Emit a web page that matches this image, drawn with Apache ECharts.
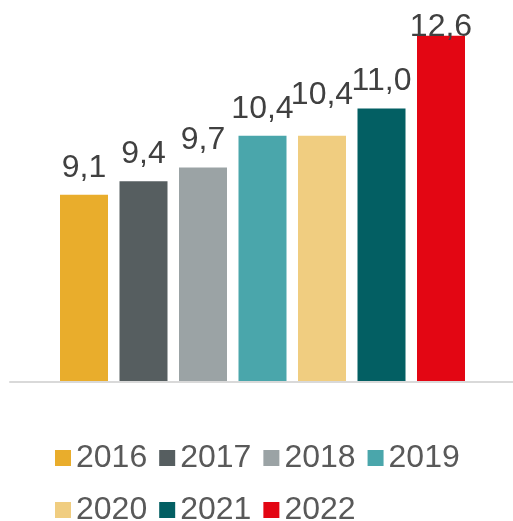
<!DOCTYPE html>
<html><head><meta charset="utf-8">
<script src="https://cdn.jsdelivr.net/npm/echarts@6/dist/echarts.min.js"></script>
<style>html,body{margin:0;padding:0;background:#fff}#c{width:513px;height:521px}</style>
</head><body><div id="c"></div>
<script>
const years = ['2016','2017','2018','2019','2020','2021','2022'];
const values = [9.1, 9.4, 9.7, 10.4, 10.4, 11.0, 12.6];
const colors = ['#E9AD2C','#565E60','#9BA3A5','#4AA6AB','#F0CD80','#035F63','#E30613'];
const yMin = 5, yMax = 13;

const labelOffsets = {4: [0, -14], 6: [0, 18]};
const chart = echarts.init(document.getElementById('c'));
const series = years.map((y, i) => ({
  name: y,
  type: 'bar',
  barWidth: 48,
  barGap: '-100%',
  itemStyle: {color: colors[i]},
  label: {
    show: true, position: 'top', distance: 11,
    offset: labelOffsets[i] || [0, 0],
    color: '#404040', fontSize: 32, fontFamily: 'Liberation Sans, Arial, sans-serif',
    formatter: p => p.value.toFixed(1).replace('.', ',')
  },
  data: years.map((_, j) => j === i ? values[i] : '-')
}));
series.push({type: 'line', xAxisIndex: 1, yAxisIndex: 1, data: [], silent: true});
chart.setOption({
  animation: false,
  textStyle: {fontFamily: 'Liberation Sans, Arial, sans-serif'},
  grid: [
    {left: 54.25, right: 42.25, top: 17.6, bottom: 140},
    {left: 10, right: 0, bottom: 139, height: 10}
  ],
  xAxis: [
    {type: 'category', data: years, gridIndex: 0, axisLine: {show: false}, axisTick: {show: false}, axisLabel: {show: false}},
    {type: 'category', data: years, gridIndex: 1, axisLine: {show: true, lineStyle: {color: '#D9D9D9', width: 2}}, axisTick: {show: false}, axisLabel: {show: false}}
  ],
  yAxis: [
    {type: 'value', min: yMin, max: yMax, gridIndex: 0, show: false, splitLine: {show: false}},
    {type: 'value', gridIndex: 1, show: false, splitLine: {show: false}}
  ],
  legend: {
    data: years,
    left: 55, top: 438, width: 420, padding: 0,
    orient: 'horizontal',
    itemWidth: 16, itemHeight: 16, itemGap: 12,
    icon: 'rect',
    textStyle: {color: '#595959', fontSize: 32, lineHeight: 40, fontFamily: 'Liberation Sans, Arial, sans-serif'}
  },
  series: series
});
</script></body></html>
